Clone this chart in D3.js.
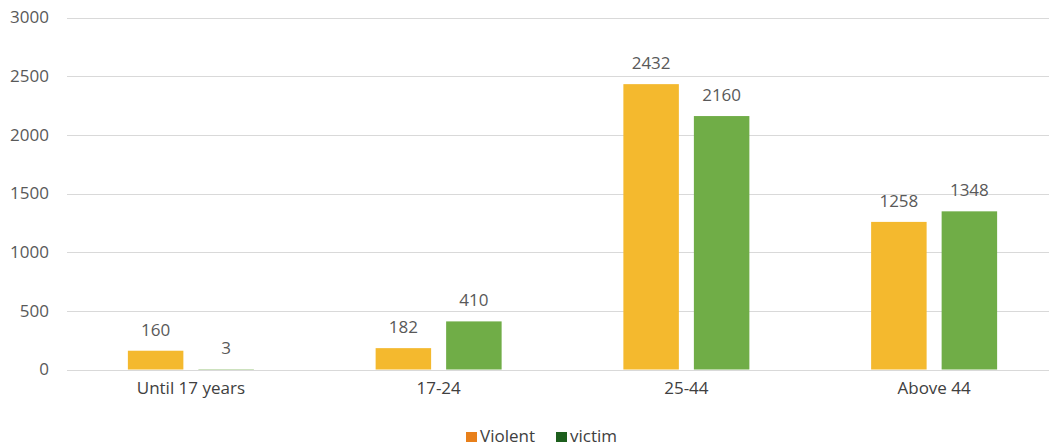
<!DOCTYPE html>
<html><head><meta charset="utf-8">
<script src="https://cdn.jsdelivr.net/npm/d3@7/dist/d3.min.js"></script>
<style>
body{margin:0;background:#fff;}
text{font-family:"Open Sans",sans-serif;}
</style></head>
<body><svg id="c" width="1049" height="448"></svg>
<script>
const categories = ["Until 17 years","17-24","25-44","Above 44"];
const seriesNames = ["Violent","victim"];
const violent = [160,182,2432,1258];
const victim = [3,410,2160,1348];
const yTicks = [0,500,1000,1500,2000,2500,3000];
const barColors = ["#F4B92E","#70AD47"];
const legendColors = ["#E8801B","#1D5F1D"];

const svg = d3.select("#c");
const x = d3.scaleBand().domain(categories).range([67,1058]);
const groupW = 126;
const x1 = d3.scaleBand().domain(seriesNames).range([0,groupW]).paddingInner(0.213);
const y = d3.scaleLinear().domain([0,3000]).range([369.5,17.5]);

// gridlines
svg.append("g").selectAll("line").data(yTicks).join("line")
  .attr("x1",67).attr("x2",1049)
  .attr("y1",d=>Math.round(y(d))+0.5).attr("y2",d=>Math.round(y(d))+0.5)
  .attr("stroke","#d9d9d9").attr("stroke-width",1);

// y axis labels
const yAxis = d3.axisLeft(y).tickValues(yTicks).tickSize(0).tickPadding(0).tickFormat(d3.format("d"));
const ya = svg.append("g").attr("transform","translate(49,0)").call(yAxis);
ya.select(".domain").remove();
ya.selectAll("text").attr("font-size",17).attr("fill","#595959").attr("font-family","Open Sans");

// x axis labels
const xAxis = d3.axisBottom(x).tickSize(0).tickPadding(0);
const xa = svg.append("g").attr("transform","translate(0,382)").call(xAxis);
xa.select(".domain").remove();
xa.selectAll("text").attr("font-size",17).attr("fill","#404040").attr("font-family","Open Sans");

const data = categories.map((c,i)=>({cat:c, vals:[{s:"Violent",v:violent[i]},{s:"victim",v:victim[i]}]}));
const groups = svg.append("g").selectAll("g").data(data).join("g")
  .attr("transform",d=>`translate(${x(d.cat)+(x.bandwidth()-groupW)/2},0)`);
groups.selectAll("rect").data(d=>d.vals).join("rect")
  .attr("x",d=>x1(d.s)).attr("width",x1.bandwidth())
  .attr("y",d=>y(d.v)).attr("height",d=>y(0)-y(d.v))
  .attr("fill",(d,i)=>barColors[i]);
groups.selectAll("text").data(d=>d.vals).join("text")
  .attr("x",d=>x1(d.s)+x1.bandwidth()/2).attr("y",d=>y(d.v)-15)
  .attr("text-anchor","middle").attr("font-size",17).attr("fill","#595959")
  .text(d=>d.v);

// legend
const leg = svg.append("g");
const legX = [466,556];
seriesNames.forEach((s,i)=>{
  leg.append("rect").attr("x",legX[i]).attr("y",432).attr("width",11).attr("height",10).attr("fill",legendColors[i]);
  leg.append("text").attr("x",legX[i]+14).attr("y",442).attr("font-size",17).attr("fill","#404040").text(s);
});
</script></body></html>
